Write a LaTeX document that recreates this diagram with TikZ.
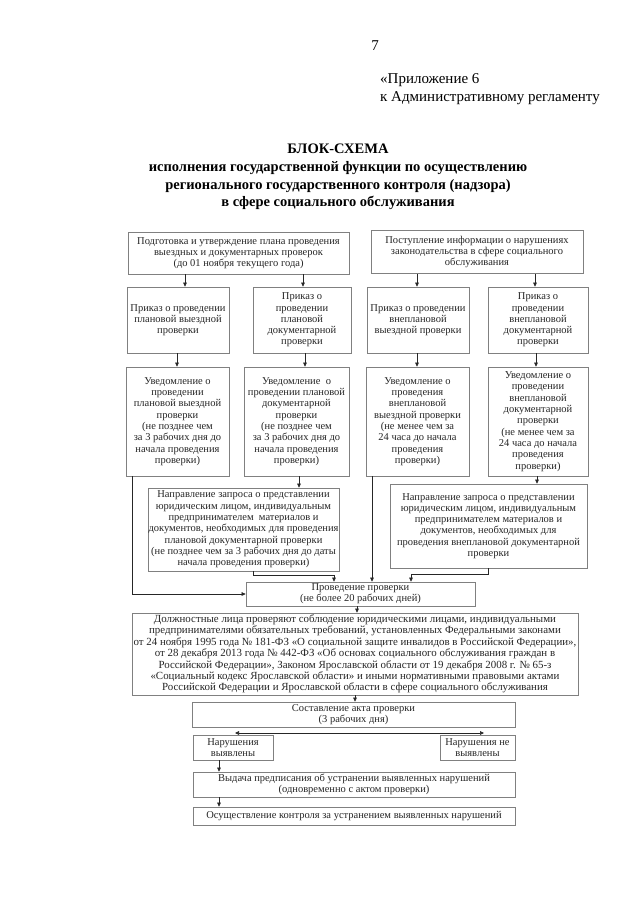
\documentclass[tikz,border=0pt]{standalone}
\usepackage{fontspec}
\setmainfont{Liberation Serif}
\usetikzlibrary{arrows.meta}
\begin{document}
\begin{tikzpicture}[x=1pt,y=-1pt,
  box/.style={draw=black!50, line width=0.7pt, align=center, inner sep=0.5pt,
    font=\fontsize{10.5}{11.3}\selectfont, text=black!85},
  arr/.style={draw=black!85, line width=0.6pt, -{Triangle[length=4pt,width=3.6pt]}},
  ln/.style={draw=black!85, line width=0.6pt},
  hdr/.style={font=\fontsize{15}{18}\selectfont, text=black, inner sep=0pt},
  ttl/.style={font=\fontsize{14.5}{17.7}\selectfont\bfseries, text=black, align=center, inner sep=0pt}]
\useasboundingbox (0,0) rectangle (640,905);
\fill[white] (0,0) rectangle (640,905);

% header
\node[hdr] (pg) at (375,46) {7};
\node[hdr, anchor=west, align=left] (app) at (380,89) {«Приложение 6\\к Административному регламенту};
\node[ttl] (title) at (338,177) {БЛОК-СХЕМА\\исполнения государственной функции по осуществлению\\регионального государственного контроля (надзора)\\в сфере социального обслуживания};

% row 1
\node[box, minimum width=221, minimum height=42] (P1) at (238.5,253) {Подготовка и утверждение плана проведения\\выездных и документарных проверок\\(до 01 ноября текущего года)};
\node[box, minimum width=212, minimum height=43] (P2) at (477,252) {Поступление информации о нарушениях\\законодательства в сфере социального\\обслуживания};

% row 2
\node[box, minimum width=102, minimum height=66] (A1) at (178,320) {Приказ о проведении\\плановой выездной\\проверки};
\node[box, minimum width=98, minimum height=66] (A2) at (302,320) {Приказ о\\проведении\\плановой\\документарной\\проверки};
\node[box, minimum width=102, minimum height=66] (A3) at (418,320) {Приказ о проведении\\внеплановой\\выездной проверки};
\node[box, minimum width=100, minimum height=66] (A4) at (538,320) {Приказ о\\проведении\\внеплановой\\документарной\\проверки};

% row 3
\node[box, minimum width=103, minimum height=109] (B1) at (177.5,421.5) {Уведомление о\\проведении\\плановой выездной\\проверки\\(не позднее чем\\за 3 рабочих дня до\\начала проведения\\проверки)};
\node[box, minimum width=105, minimum height=109] (B2) at (296.5,421.5) {Уведомление\ \ о\\проведении плановой\\документарной\\проверки\\(не позднее чем\\за 3 рабочих дня до\\начала проведения\\проверки)};
\node[box, minimum width=103, minimum height=109] (B3) at (417.5,421.5) {Уведомление о\\проведения\\внеплановой\\выездной проверки\\(не менее чем за\\24 часа до начала\\проведения\\проверки)};
\node[box, minimum width=100, minimum height=109] (B4) at (538,421.5) {Уведомление о\\проведении\\внеплановой\\документарной\\проверки\\(не менее чем за\\24 часа до начала\\проведения\\проверки)};

% row 4
\node[box, minimum width=189, minimum height=83] (C1) at (243.5,529.5) {Направление запроса о представлении\\юридическим лицом, индивидуальным\\предпринимателем\ \ материалов и\\документов, необходимых для проведения\\плановой документарной проверки\\(не позднее чем за 3 рабочих дня до даты\\начала проведения проверки)};
\node[box, minimum width=197, minimum height=84] (C2) at (488.5,526) {Направление запроса о представлении\\юридическим лицом, индивидуальным\\предпринимателем материалов и\\документов, необходимых для\\проведения внеплановой документарной\\проверки};

% lower chain
\node[box, minimum width=229, minimum height=24] (D) at (360.5,594) {Проведение проверки\\(не более 20 рабочих дней)};
\node[box, minimum width=446, minimum height=82, font=\fontsize{10.9}{11.4}\selectfont] (E) at (355,654) {Должностные лица проверяют соблюдение юридическими лицами, индивидуальными\\предпринимателями обязательных требований, установленных Федеральными законами\\от 24 ноября 1995 года № 181-ФЗ «О социальной защите инвалидов в Российской Федерации»,\\от 28 декабря 2013 года № 442-ФЗ «Об основах социального обслуживания граждан в\\Российской Федерации», Законом Ярославской области от 19 декабря 2008 г. № 65-з\\«Социальный кодекс Ярославской области» и иными нормативными правовыми актами\\Российской Федерации и Ярославской области в сфере социального обслуживания};
\node[box, minimum width=323, minimum height=25] (F) at (353.5,714.5) {Составление акта проверки\\(3 рабочих дня)};
\node[box, minimum width=80, minimum height=25] (G1) at (233,747.5) {Нарушения\\выявлены};
\node[box, minimum width=75, minimum height=25] (G2) at (477.5,747.5) {Нарушения не\\выявлены};
\node[box, minimum width=322, minimum height=25] (H) at (354,784.5) {Выдача предписания об устранении выявленных нарушений\\(одновременно с актом проверки)};
\node[box, minimum width=322, minimum height=18] (I) at (354,816) {Осуществление контроля за устранением выявленных нарушений};

% connectors row1 -> row2
\draw[arr] (185,0 |- P1.south) -- (185,0 |- A1.north);
\draw[arr] (303,0 |- P1.south) -- (303,0 |- A2.north);
\draw[arr] (417,0 |- P2.south) -- (417,0 |- A3.north);
\draw[arr] (535,0 |- P2.south) -- (535,0 |- A4.north);
% row2 -> row3
\draw[arr] (177,0 |- A1.south) -- (177,0 |- B1.north);
\draw[arr] (305,0 |- A2.south) -- (305,0 |- B2.north);
\draw[arr] (417,0 |- A3.south) -- (417,0 |- B3.north);
\draw[arr] (536,0 |- A4.south) -- (536,0 |- B4.north);
% row3 -> row4
\draw[arr] (299,0 |- B2.south) -- (299,0 |- C1.north);
\draw[arr] (537,0 |- B4.south) -- (537,0 |- C2.north);
% to D
\draw[arr] (132,0 |- B1.south) |- (D.west);
\draw[arr] (372,0 |- B3.south) -- (372,0 |- D.north);
\draw[arr] (253,0 |- C1.south) -- (253,575) -- (334,575) -- (334,0 |- D.north);
\draw[arr] (488,0 |- C2.south) -- (488,574) -- (411,574) -- (411,0 |- D.north);
% chain
\draw[arr] (357,0 |- D.south) -- (357,0 |- E.north);
\draw[arr] (355,0 |- E.south) -- (355,0 |- F.north);
\coordinate (fj) at (354,733);
\coordinate (fl) at (235,733);
\coordinate (fr) at (484,733);
\draw[arr] (fj) -- (fl);
\draw[arr] (fj) -- (fr);
\draw[arr] (219,0 |- G1.south) -- (219,0 |- H.north);
\draw[arr] (219,0 |- H.south) -- (219,0 |- I.north);
\end{tikzpicture}
\end{document}
